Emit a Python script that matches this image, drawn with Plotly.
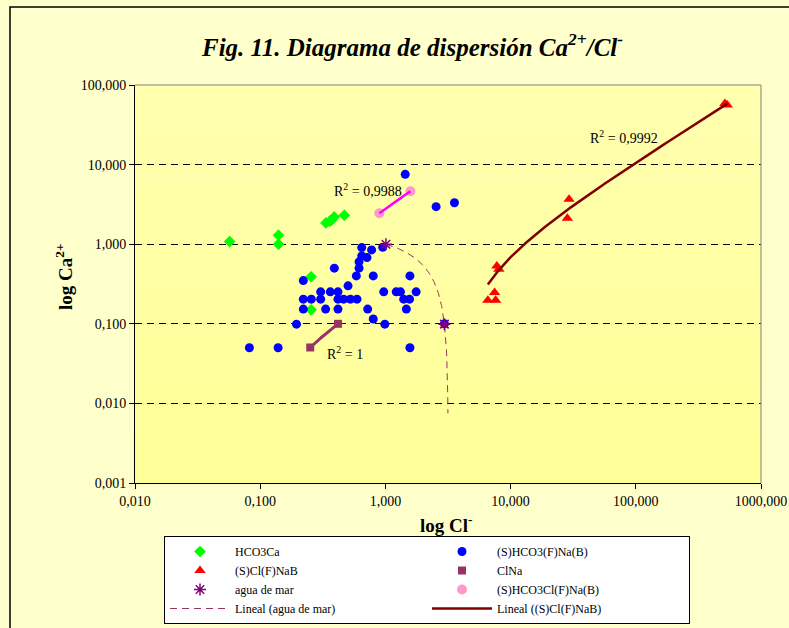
import numpy as np
import plotly.graph_objects as go

# ---------------- data (log Cl- vs log Ca2+) ----------------
hco3ca_cl = [0.057, 0.14, 0.14, 0.335, 0.36, 0.37, 0.39, 0.47, 0.255, 0.255]
hco3ca_ca = [1.08, 1.30, 1.00, 1.85, 1.95, 2.00, 2.20, 2.31, 0.39, 0.15]

shco3fnab_cl = [1.44, 2.54, 3.56,
                0.647, 0.776, 0.952, 0.647, 0.713, 0.616, 0.616,
                0.391, 0.586, 0.80, 1.57, 0.221, 0.503,
                0.304, 0.363, 0.418, 0.97, 1.22, 1.32, 1.76,
                0.221, 0.256, 0.304, 0.418, 0.464, 0.525, 0.593, 1.40, 1.56,
                0.221, 0.333, 0.418, 0.722, 1.47,
                0.195, 0.80, 0.99, 2.96,
                0.082, 0.139, 1.57]
shco3fnab_ca = [7.55, 2.96, 3.32,
                0.906, 0.848, 0.917, 0.713, 0.679, 0.60, 0.50,
                0.50, 0.40, 0.40, 0.40, 0.349, 0.30,
                0.252, 0.252, 0.252, 0.252, 0.252, 0.252, 0.252,
                0.204, 0.204, 0.204, 0.204, 0.204, 0.204, 0.204, 0.204, 0.204,
                0.153, 0.153, 0.153, 0.153, 0.153,
                0.099, 0.115, 0.099, 0.10,
                0.05, 0.05, 0.05]

sclfnab_cl = [6.58, 7.45, 7.59, 7.77, 8.06, 28.4, 29.3, 515, 538]
sclfnab_ca = [0.198, 0.247, 0.198, 0.534, 0.486, 2.12, 3.67, 58.4, 56.0]

clna_cl = [0.251, 0.418]
clna_ca = [0.0504, 0.100]

agua_cl = [1.01, 2.96]
agua_ca = [1.0, 0.099]
agua_trend_end_ca = 0.0075

mix_cl = [0.895, 1.585]
mix_ca = [2.45, 4.62]

x_tickvals = [0.01, 0.1, 1, 10, 100, 1000]
x_ticktext = ["0,010", "0,100", "1,000", "10,000", "100,000", "1000,000"]
y_tickvals = [0.001, 0.01, 0.1, 1, 10, 100]
y_ticktext = ["0,001", "0,010", "0,100", "1,000", "10,000", "100,000"]

r2_labels = ["R<sup>2</sup> = 0,9988", "R<sup>2</sup> = 1", "R<sup>2</sup> = 0,9992"]

FONT = "Liberation Serif"

# ---------------- linear (Excel-style) trendlines ----------------
def lin_trend(xv, yv, x_from, x_to, n=250):
    m, b = np.polyfit(np.asarray(xv, float), np.asarray(yv, float), 1)
    xs = np.geomspace(x_from, x_to, n)
    return xs, m * xs + b

red_tx, red_ty = lin_trend(sclfnab_cl, sclfnab_ca, min(sclfnab_cl), max(sclfnab_cl))
mix_tx, mix_ty = lin_trend(mix_cl, mix_ca, min(mix_cl), max(mix_cl))
clna_tx, clna_ty = lin_trend(clna_cl, clna_ca, min(clna_cl), max(clna_cl))
m_a, b_a = np.polyfit(agua_cl, agua_ca, 1)
agua_x_end = (agua_trend_end_ca - b_a) / m_a
agua_tx = np.geomspace(min(agua_cl), agua_x_end, 300)
agua_ty = m_a * agua_tx + b_a

fig = go.Figure()

mk = dict(line=dict(width=0))
fig.add_trace(go.Scatter(x=hco3ca_cl, y=hco3ca_ca, mode="markers", name="HCO3Ca",
                         marker=dict(symbol="diamond", size=9, color="#00FF00", **mk), legendrank=1))
fig.add_trace(go.Scatter(x=shco3fnab_cl, y=shco3fnab_ca, mode="markers", name="(S)HCO3(F)Na(B)",
                         marker=dict(symbol="circle", size=9, color="#0000FF", **mk), legendrank=2))
fig.add_trace(go.Scatter(x=sclfnab_cl, y=sclfnab_ca, mode="markers", name="(S)Cl(F)NaB",
                         marker=dict(symbol="triangle-up", size=10, color="#FF0000", **mk), legendrank=3))
fig.add_trace(go.Scatter(x=clna_cl, y=clna_ca, mode="markers", name="ClNa",
                         marker=dict(symbol="square", size=8, color="#993366", **mk), legendrank=4))
fig.add_trace(go.Scatter(x=mix_cl, y=mix_ca, mode="markers", name="(S)HCO3Cl(F)Na(B)",
                         marker=dict(symbol="circle", size=10, color="#FF99CC", **mk), legendrank=6))
# trendlines
fig.add_trace(go.Scatter(x=clna_tx, y=clna_ty, mode="lines", showlegend=False,
                         line=dict(color="#993366", width=3)))
fig.add_trace(go.Scatter(x=mix_tx, y=mix_ty, mode="lines", showlegend=False,
                         line=dict(color="#FF00FF", width=2.5)))
fig.add_trace(go.Scatter(x=agua_tx, y=agua_ty, mode="lines", name="Lineal (agua de mar)",
                         line=dict(color="#993366", width=1, dash="7px,5px"), legendrank=7))
fig.add_trace(go.Scatter(x=red_tx, y=red_ty, mode="lines", name="Lineal ((S)Cl(F)NaB)",
                         line=dict(color="#800000", width=2.5), legendrank=8))
fig.add_trace(go.Scatter(x=agua_cl, y=agua_ca, mode="markers", name="agua de mar",
                         marker=dict(symbol="asterisk-open", size=10, color="#800080",
                                     line=dict(width=1.5, color="#800080")), legendrank=5))

# ---------------- layout ----------------
W, H = 789, 628
L, R, T, B = 135, 28, 85, 145
pw, ph = W - L - R, H - T - B

def px_x(p):
    return (p - L) / pw

def px_y(p):
    return (H - B - p) / ph

shapes = []
for k in range(1, 8):
    shapes.append(dict(type="rect", xref="paper", yref="paper", x0=0, x1=1, y0=k / 8, y1=1,
                       fillcolor="white", opacity=0.035, line=dict(width=0), layer="below"))
shapes.append(dict(type="path", xref="paper", yref="paper", path="M 0,1 L 1,1 L 1,0",
                   line=dict(color="#808080", width=1), layer="above"))
shapes.append(dict(type="rect", xref="paper", yref="paper",
                   x0=px_x(10), x1=px_x(800), y0=px_y(640), y1=px_y(7),
                   line=dict(color="black", width=1.5), fillcolor="rgba(0,0,0,0)", layer="above"))

annotations = [
    dict(text="<b><i>Fig. 11. Diagrama de dispersión Ca<sup>2+</sup>/Cl<sup>-</sup></i></b>",
         xref="paper", yref="paper", x=px_x(412), y=px_y(45), showarrow=False,
         font=dict(family=FONT, size=25, color="black"), xanchor="center", yanchor="middle"),
    dict(text="<b>log Cl<sup>-</sup></b>", xref="paper", yref="paper", x=px_x(446), y=px_y(524),
         showarrow=False, font=dict(family=FONT, size=19, color="black"),
         xanchor="center", yanchor="middle"),
    dict(text="<b>log Ca<sup>2+</sup></b>", xref="paper", yref="paper", x=px_x(64), y=px_y(277),
         showarrow=False, textangle=-90, font=dict(family=FONT, size=19, color="black"),
         xanchor="center", yanchor="middle"),
    dict(text=r2_labels[0], xref="x", yref="y", x=-0.142, y=0.678, showarrow=False,
         font=dict(family=FONT, size=14, color="black")),
    dict(text=r2_labels[1], xref="x", yref="y", x=-0.32, y=-1.373, showarrow=False,
         font=dict(family=FONT, size=14, color="black")),
    dict(text=r2_labels[2], xref="x", yref="y", x=1.904, y=1.346, showarrow=False,
         font=dict(family=FONT, size=14, color="black")),
]

fig.update_layout(
    width=W, height=H,
    margin=dict(l=L, r=R, t=T, b=B, pad=0, autoexpand=False),
    paper_bgcolor="#FFFFCC",
    plot_bgcolor="#FFFF99",
    font=dict(family=FONT, size=14, color="black"),
    shapes=shapes,
    annotations=annotations,
    xaxis=dict(type="log", range=[-2, 3], tickvals=x_tickvals, ticktext=x_ticktext,
               ticks="outside", ticklen=5, tickcolor="black", showline=True, linecolor="black",
               linewidth=1, showgrid=False, zeroline=False, automargin=False,
               tickfont=dict(family=FONT, size=14, color="black")),
    yaxis=dict(type="log", range=[-3, 2], tickvals=y_tickvals, ticktext=y_ticktext,
               ticks="outside", ticklen=5, tickcolor="black", showline=True, linecolor="black",
               linewidth=1, showgrid=True, gridcolor="black", gridwidth=1, griddash="7px,5px",
               zeroline=False, automargin=False, tickfont=dict(family=FONT, size=14, color="black")),
    legend=dict(orientation="h", x=px_x(164), xanchor="left", y=px_y(536), yanchor="top",
                bgcolor="white", bordercolor="black", borderwidth=1,
                font=dict(family=FONT, size=12, color="black"),
                itemwidth=60, entrywidth=187, traceorder="normal"),
    showlegend=True,
)

fig.write_html("out.html")
